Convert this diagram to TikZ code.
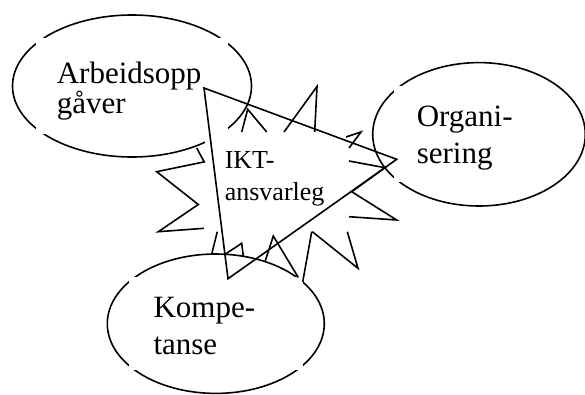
\documentclass[tikz,border=0pt]{standalone}
\usepackage{fontspec}
\setmainfont{Liberation Serif}
% ellipse with white text box; #5 = right extent factor of the box
\newcommand\gapell[5]{%
  \draw (#1,#2) ellipse [x radius=#3 pt, y radius=#4 pt];
  \fill[white] ({#1-0.8*#3},{#2-0.67*#4}) rectangle ({#1+#5*#3},{#2+0.67*#4});}
\begin{document}
\begin{tikzpicture}[x=1pt,y=-1pt,line width=1.6pt,line join=miter,
  lbl/.style={font=\fontsize{31}{31}\selectfont,anchor=base west,inner sep=0pt},
  slbl/.style={font=\fontsize{26}{26}\selectfont,anchor=base west,inner sep=0pt}]
\useasboundingbox (0,0) rectangle (585,394);
% ellipses with small gaps at their corners
\gapell{132}{86}{119.5}{71}{0.8}
\gapell{479}{134.3}{106.3}{71.7}{0.5}
\gapell{215.8}{323.7}{108.5}{69.7}{0.8}
% text box of the explosion
\fill[white] (205,132) rectangle (347,231.7);
% visible parts of the explosion outline
\draw (241.7,132) -- (247.7,109.3) -- (266.7,132);
\draw (284,132) -- (317,86.5) -- (314.7,132);
\draw (346,137) -- (361,132) -- (349,148);
\draw (349,161) -- (385,167.7) -- (351.7,191.7) -- (396.7,220) -- (349,216.7);
\draw (347.3,231.7) -- (358,268.3) -- (312.3,231.7);
\draw (311.7,231.7) -- (302.7,282);
\draw (298.3,277.5) -- (273.3,236) -- (265,261.7);
\draw (243.3,256.3) -- (241.7,243.3) -- (225,254.3);
\draw (211.7,254) -- (217.3,231.7);
\draw (204,228.3) -- (158.3,231.7) -- (198.3,204.5) -- (156.7,171.7) -- (205,161.7);
\draw (196.7,148) -- (204.5,162.5);
% triangle
\draw (204,88) -- (396.7,159.3) -- (228,278.7) -- cycle;
% texts
\node[lbl] (a1) at (56,83) {Arbeidsopp};
\node[lbl] (a2) at (56,113) {gåver};
\node[lbl] (o1) at (416,126) {Organi-};
\node[lbl] (o2) at (416,163.3) {sering};
\node[lbl] (k1) at (152.7,317) {Kompe-};
\node[lbl] (k2) at (152.7,354) {tanse};
\node[slbl] (i1) at (224,168.3) {IKT-};
\node[slbl] (i2) at (224,200.7) {ansvarleg};
\end{tikzpicture}
\end{document}
